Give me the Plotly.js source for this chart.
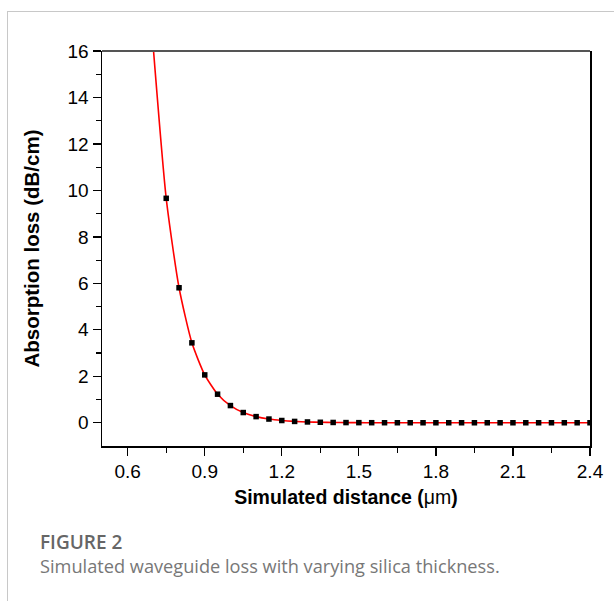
<!DOCTYPE html>
<html>
<head>
<meta charset="utf-8">
<script src="https://cdn.plot.ly/plotly-3.0.1.min.js"></script>
<style>
  html, body { margin: 0; padding: 0; background: #fff; }
  #wrap { position: relative; width: 614px; height: 601px; overflow: hidden; }
  #frame { position: absolute; left: 7px; top: 11px; width: 620px; height: 600px;
           border-left: 1px solid #c8c8c8; border-top: 1px solid #c8c8c8; }
  #chart { position: absolute; left: 0; top: 0; width: 614px; height: 601px; }
  .cap1 { position: absolute; left: 40px; top: 529px; font-family: "Open Sans", "Noto Sans", sans-serif;
          font-weight: 600; font-size: 19px; color: #666; }
  .cap2 { position: absolute; left: 40px; top: 554px; font-family: "Open Sans", "Noto Sans", sans-serif;
          font-size: 18.2px; color: #777; }
</style>
</head>
<body>
<div id="wrap">
  <div id="frame"></div>
  <div id="chart"></div>
  <div class="cap1">FIGURE 2</div>
  <div class="cap2">Simulated waveguide loss with varying silica thickness.</div>
</div>
<script>
// Simulated distance (µm) and absorption loss (dB/cm)
const thickness = [0.70, 0.75, 0.80, 0.85, 0.90, 0.95, 1.00, 1.05, 1.10, 1.15, 1.20,
  1.25, 1.30, 1.35, 1.40, 1.45, 1.50, 1.55, 1.60, 1.65, 1.70, 1.75, 1.80, 1.85,
  1.90, 1.95, 2.00, 2.05, 2.10, 2.15, 2.20, 2.25, 2.30, 2.35, 2.40];
const loss = [16.1, 9.66, 5.81, 3.44, 2.06, 1.23, 0.74, 0.44, 0.265, 0.16, 0.097,
  0.058, 0.035, 0.021, 0.013, 0.008, 0.005, 0.003, 0.002, 0.001, 0.001, 0, 0, 0,
  0, 0, 0, 0, 0, 0, 0, 0, 0, 0, 0];
const xTicks = [0.6, 0.9, 1.2, 1.5, 1.8, 2.1, 2.4];
const yTicks = [0, 2, 4, 6, 8, 10, 12, 14, 16];

const tickFont = {family: 'Arial', size: 19, color: '#000'};

const traces = [
  {
    x: thickness, y: loss, type: 'scatter', mode: 'lines',
    line: {color: '#ff0000', width: 1.6, shape: 'spline', smoothing: 0.6},
    hoverinfo: 'skip', showlegend: false
  },
  {
    x: thickness.slice(1), y: loss.slice(1), type: 'scatter', mode: 'markers',
    marker: {symbol: 'square', size: 5.5, color: '#000'},
    showlegend: false
  }
];

const layout = {
  width: 614, height: 601,
  margin: {l: 102, r: 24, t: 51, b: 155},
  paper_bgcolor: 'rgba(0,0,0,0)', plot_bgcolor: 'rgba(0,0,0,0)',
  showlegend: false,
  xaxis: {
    range: [0.5, 2.4], tickvals: xTicks, ticktext: xTicks.map(v => v.toFixed(1)),
    ticks: 'outside', ticklen: 8, tickwidth: 1.3, tickcolor: '#000',
    showline: true, linecolor: '#000', linewidth: 1.5, mirror: false,
    showgrid: false, zeroline: false, tickfont: tickFont,
    minor: {tickvals: [0.75, 1.05, 1.35, 1.65, 1.95, 2.25], ticks: 'outside', ticklen: 5, tickwidth: 1.2, tickcolor: '#000', showgrid: false},
    title: {text: '<b>Simulated distance (</b>μm<b>)</b>', font: {family: 'Arial', size: 19.5, color: '#000'}, standoff: 9}
  },
  yaxis: {
    range: [-1, 16], tickvals: yTicks,
    ticks: 'outside', ticklen: 8, tickwidth: 1.3, tickcolor: '#000',
    showline: true, linecolor: '#000', linewidth: 1.5, mirror: true,
    showgrid: false, zeroline: false, tickfont: tickFont,
    minor: {tickvals: [1, 3, 5, 7, 9, 11, 13, 15], ticks: 'outside', ticklen: 5, tickwidth: 1.2, tickcolor: '#000', showgrid: false},
    title: {text: '<b>Absorption loss (dB/cm)</b>', font: {family: 'Arial', size: 20.5, color: '#000'}, standoff: 22}
  },
  shapes: [
    {type: 'line', xref: 'paper', yref: 'paper', x0: 0, x1: 1, y0: 1, y1: 1,
     line: {color: '#555', width: 2}}
  ]
};

Plotly.newPlot('chart', traces, layout, {displayModeBar: false, staticPlot: true});
</script>
</body>
</html>
